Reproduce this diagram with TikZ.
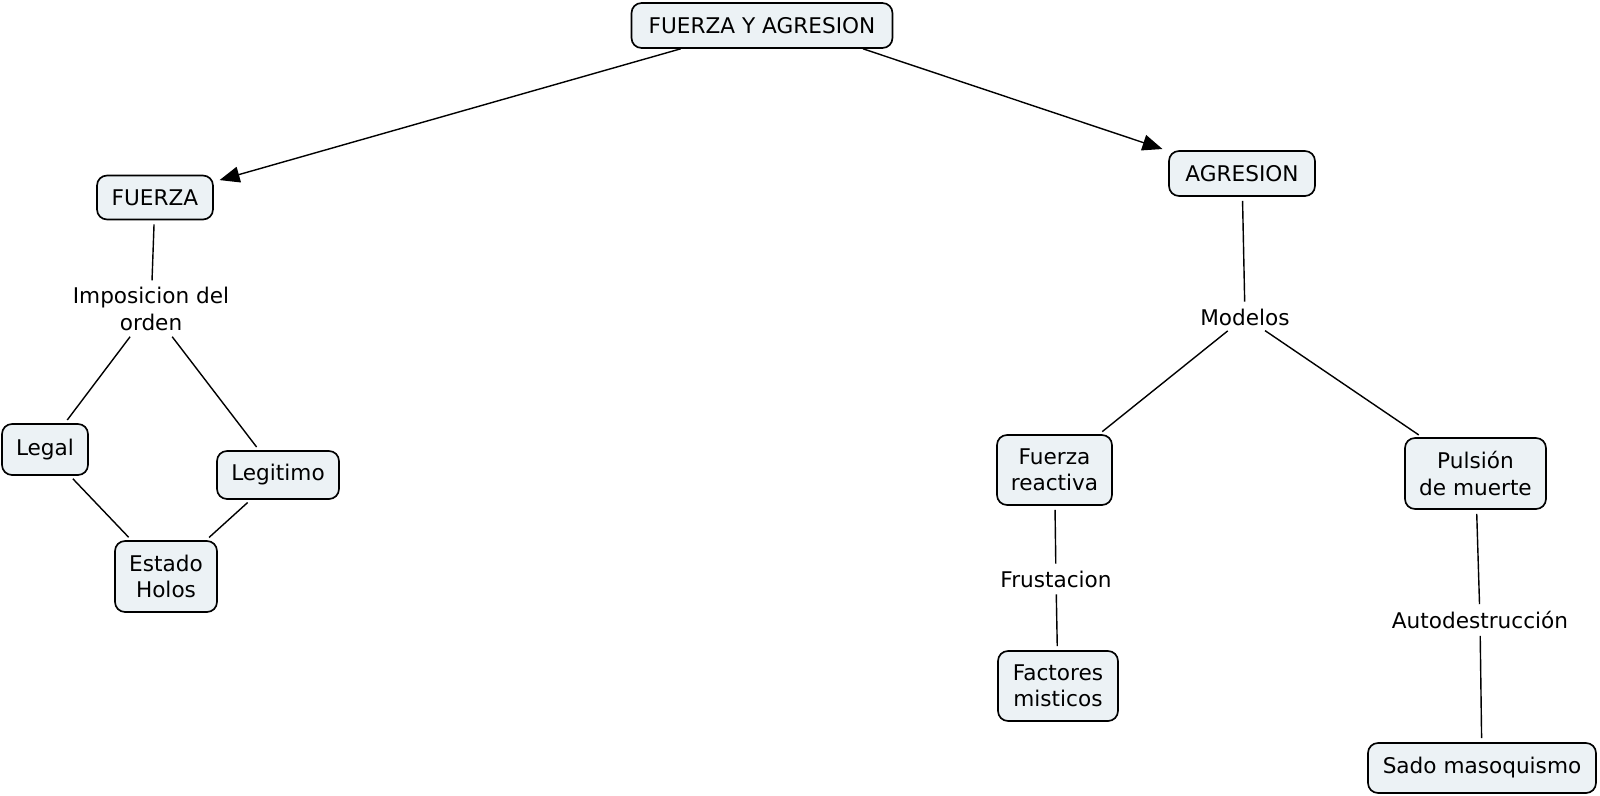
\documentclass[tikz,border=0pt]{standalone}
\usepackage{fontspec}
\setmainfont{DejaVu Sans}
\usetikzlibrary{arrows.meta}
\definecolor{boxfill}{RGB}{236,242,245}
\tikzset{
    concept/.style={rectangle, rounded corners=0.2cm, draw, line width=0.95pt, fill=boxfill, align=center, inner sep=2pt},
    linkword/.style={align=center, inner sep=1.5pt},
    link/.style={draw, line width=0.8pt, shorten <=0.08cm, shorten >=0.08cm},
    arrowlink/.style={draw, line width=0.8pt, -{Triangle[length=0.4cm, width=0.32cm]}, shorten >=0.12cm}
}

\begin{document}
\begin{tikzpicture}[x=0.02cm, y=-0.02cm, font=\fontsize{12.3}{15}\selectfont]
    \useasboundingbox (0,0) rectangle (1600,795);

    % Nodes
    \node[concept, minimum width=5.22cm, minimum height=0.9cm] (root) at (762,25.5) {FUERZA Y AGRESION};
    \node[concept, minimum width=2.32cm, minimum height=0.88cm] (fuerza) at (155,197.5) {FUERZA};
    \node[concept, minimum width=2.92cm, minimum height=0.9cm] (agresion) at (1242,173.5) {AGRESION};

    \node[linkword] (imposicion) at (151,309) {Imposicion del\\orden};
    \node[concept, minimum width=1.72cm, minimum height=1.02cm] (legal) at (45,449.5) {Legal};
    \node[concept, minimum width=2.44cm, minimum height=0.96cm] (legitimo) at (278,475) {Legitimo};
    \node[concept, minimum width=2.04cm, minimum height=1.42cm] (estado) at (166,576.5) {Estado\\Holos};

    \node[linkword] (modelos) at (1245,317) {Modelos};
    \node[concept, minimum width=2.3cm, minimum height=1.4cm] (reactiva) at (1054.5,470) {Fuerza\\reactiva};
    \node[concept, minimum width=2.82cm, minimum height=1.42cm] (pulsion) at (1475.5,473.5) {Pulsión\\de muerte};
    \node[linkword] (frustacion) at (1056,579) {Frustacion};
    \node[concept, minimum width=2.4cm, minimum height=1.4cm] (factores) at (1058,686) {Factores\\misticos};
    \node[linkword] (autodes) at (1480,620) {Autodestrucción};
    \node[concept, minimum width=4.56cm, minimum height=1cm] (sado) at (1482,768) {Sado masoquismo};

    % edges
    \draw[arrowlink] (root.-164) -- (fuerza.15);
    \draw[arrowlink] (root.-13) -- (agresion.163);

    \draw[link] (fuerza) -- (imposicion);
    \draw[link] (imposicion) -- (legal);
    \draw[link] (imposicion) -- (legitimo);
    \draw[link] (legal) -- (estado);
    \draw[link] (legitimo) -- (estado);

    \draw[link] (agresion) -- (modelos);
    \draw[link] (modelos) -- (reactiva);
    \draw[link] (modelos) -- (pulsion);
    \draw[link] (reactiva) -- (frustacion);
    \draw[link] (frustacion) -- (factores);
    \draw[link] (pulsion) -- (autodes);
    \draw[link] (autodes) -- (sado);
\end{tikzpicture}
\end{document}
